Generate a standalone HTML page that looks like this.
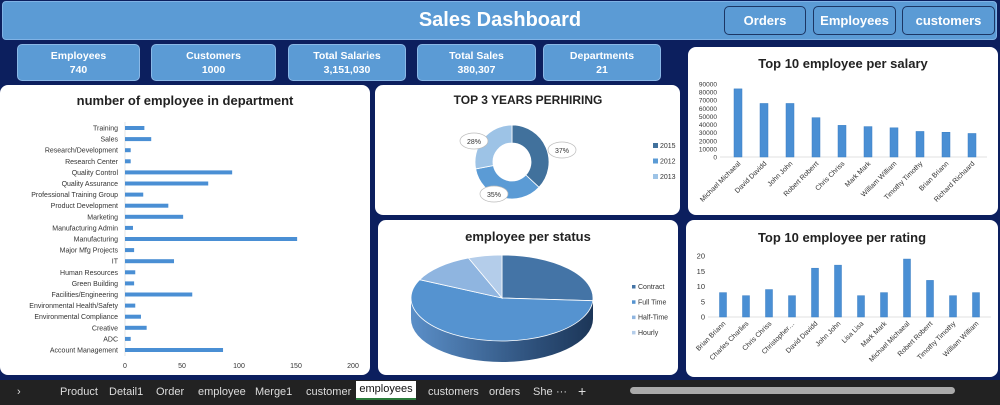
<!DOCTYPE html>
<html><head><meta charset="utf-8">
<style>
body{margin:0;width:1000px;height:405px;background:#0c1f5e;font-family:"Liberation Sans",sans-serif;position:relative;overflow:hidden}
.abs{position:absolute}
.hdr{left:2px;top:1px;width:995px;height:39px;background:#5b9bd5;border:1px solid #7fb2e5;border-radius:4px;box-sizing:border-box}
.title{left:0;width:1000px;top:9px;text-align:center;color:#fff;font-weight:bold;font-size:20px}
.btn{top:6px;height:29px;border:1.5px solid #1c3664;border-radius:5px;background:#5b9bd5;color:#fff;font-weight:bold;font-size:13px;text-align:center;line-height:27px;box-sizing:border-box}
.kpi{top:44px;height:37px;background:#5b9bd5;border:1px solid #8ab8e6;border-radius:5px;color:#fff;font-weight:bold;font-size:10.5px;text-align:center;line-height:14px;padding-top:4px;box-sizing:border-box}
.panel{background:#fff;border-radius:8px}
.tabs{left:0;top:380px;width:1000px;height:25px;background:#222}
.tab{top:386px;color:#ddd;font-size:11px}
svg text{font-family:"Liberation Sans",sans-serif}
</style></head><body>
<div class="abs hdr"></div>
<div class="abs title">Sales Dashboard</div>
<div class="abs btn" style="left:724px;width:82px">Orders</div>
<div class="abs btn" style="left:813px;width:83px">Employees</div>
<div class="abs btn" style="left:902px;width:93px">customers</div>

<div class="abs kpi" style="left:17px;width:123px">Employees<br>740</div>
<div class="abs kpi" style="left:151px;width:125px">Customers<br>1000</div>
<div class="abs kpi" style="left:288px;width:118px">Total Salaries<br>3,151,030</div>
<div class="abs kpi" style="left:417px;width:119px">Total Sales<br>380,307</div>
<div class="abs kpi" style="left:543px;width:118px">Departments<br>21</div>

<div class="abs panel" style="left:0;top:85px;width:370px;height:290px"></div>
<div class="abs panel" style="left:375px;top:85px;width:305px;height:130px"></div>
<div class="abs panel" style="left:378px;top:220px;width:300px;height:155px"></div>
<div class="abs panel" style="left:688px;top:47px;width:310px;height:168px"></div>
<div class="abs panel" style="left:686px;top:220px;width:312px;height:157px"></div>

<svg class="abs" style="left:0;top:0" width="1000" height="380" id="charts">
<text x="185" y="105" text-anchor="middle" font-size="13" font-weight="bold" fill="#222">number of employee in department</text>
<text x="528" y="104" text-anchor="middle" font-size="12" font-weight="bold" fill="#222">TOP 3 YEARS PERHIRING</text>
<text x="528" y="241" text-anchor="middle" font-size="13" font-weight="bold" fill="#222">employee per status</text>
<text x="843" y="68" text-anchor="middle" font-size="13" font-weight="bold" fill="#222">Top 10 employee per salary</text>
<text x="842" y="242" text-anchor="middle" font-size="13" font-weight="bold" fill="#222">Top 10 employee per rating</text>
<g id="dept"></g><g id="donut"></g><g id="pie"></g><g id="sal"></g><g id="rat"></g>
</svg>

<div class="abs tabs"></div>
<div class="abs tab" style="left:17px">›</div>
<div class="abs tab" style="left:60px">Product</div>
<div class="abs tab" style="left:109px">Detail1</div>
<div class="abs tab" style="left:156px">Order</div>
<div class="abs tab" style="left:198px">employee</div>
<div class="abs tab" style="left:255px">Merge1</div>
<div class="abs tab" style="left:306px">customer</div>
<div class="abs" style="left:356px;top:381px;width:60px;height:19px;background:#fff;color:#111;font-size:11px;text-align:center;line-height:17px;border-bottom:2px solid #2a7a3a;box-sizing:border-box">employees</div>
<div class="abs tab" style="left:428px">customers</div>
<div class="abs tab" style="left:489px">orders</div>
<div class="abs tab" style="left:533px">She</div>
<div class="abs tab" style="left:556px">···</div>
<div class="abs tab" style="left:578px;font-size:14px;top:383px">+</div>
<div class="abs" style="left:630px;top:387px;width:325px;height:7px;background:#aaa;border-radius:4px"></div>

<script>
const NS='http://www.w3.org/2000/svg';
function mk(p,t,a,txt){const e=document.createElementNS(NS,t);for(const k in a)e.setAttribute(k,a[k]);if(txt!==undefined)e.textContent=txt;p.appendChild(e);return e;}

// Department chart
const deptNames=["Training","Sales","Research/Development","Research Center","Quality Control","Quality Assurance","Professional Training Group","Product Development","Marketing","Manufacturing Admin","Manufacturing","Major Mfg Projects","IT","Human Resources","Green Building","Facilities/Engineering","Environmental Health/Safety","Environmental Compliance","Creative","ADC","Account Management"];
const deptCounts=[17,23,5,5,94,73,16,38,51,7,151,8,43,9,8,59,9,14,19,5,86];
const deptTicks=[0,50,100,150,200];
// Salary chart
const salNames=["Michael Michaeal","David Davidd","John John","Robert Roberrt","Chris Chriss","Mark Mark","William William","Timothy Timothy","Brian Briann","Richard Richaard"];
const salValues=[84000,66000,66000,48500,39000,37500,36000,31500,30500,29000];
const salTicks=[0,10000,20000,30000,40000,50000,60000,70000,80000,90000];
// Rating chart
const ratNames=["Brian Briann","Charles Charlies","Chris Chriss","Christopher…","David Davidd","John John","Lisa Lisa","Mark Mark","Michael Michaeal","Robert Roberrt","Timothy Timothy","William William"];
const ratValues=[8,7,9,7,16,17,7,8,19,12,7,8];
const ratTicks=[0,5,10,15,20];
// Donut
const hireYears=["2015","2012","2013"];
const hireShares=[37,35,28];
// Pie
const statusNames=["Contract","Full Time","Half-Time","Hourly"];
const statusShares=[26,56,12,6];

(function(){
 const g=document.getElementById('dept');
 const x=v=>125+v*(353-125)/200, y=i=>128+i*(350-128)/20;
 deptTicks.forEach(t=>{const e=mk(g,'text',{x:x(t),y:368,'text-anchor':'middle','font-size':7,fill:'#333'},t);
 });
 mk(g,'line',{x1:125,y1:122,x2:125,y2:356,stroke:'#d9d9d9','stroke-width':0.7});
 deptNames.forEach((n,i)=>{
  const l=mk(g,'text',{x:118,y:y(i)+2.5,'text-anchor':'end','font-size':7,fill:'#333'},n);
  
  const b=mk(g,'rect',{x:125,y:y(i)-2,width:x(deptCounts[i])-125,height:4,fill:'#4a8fd4'});
  
 });
})();

function colChart(id,names,vals,ticks,y0,yTop,x0,x1,labX,bw,fs){
 const g=document.getElementById(id);const max=ticks[ticks.length-1];
 const y=v=>y0-v*(y0-yTop)/max, step=(x1-x0)/(names.length-1);
 ticks.forEach(t=>{const e=mk(g,'text',{x:labX,y:y(t)+2.5,'text-anchor':'end','font-size':fs,fill:'#333'},t);
 });
 mk(g,'line',{x1:labX+3,y1:y0,x2:x1+15,y2:y0,stroke:'#d9d9d9','stroke-width':0.7});
 names.forEach((n,i)=>{const cx=x0+i*step;
  const b=mk(g,'rect',{x:cx-bw/2,y:y(vals[i]),width:bw,height:y0-y(vals[i]),fill:'#4a8fd4',stroke:'#3a7fc4','stroke-width':0.5});
  
  const l=mk(g,'text',{x:cx+3,y:y0+7,'text-anchor':'end','font-size':7,fill:'#333',transform:`rotate(-45 ${cx+3} ${y0+7})`},n);
  
 });
}
colChart('sal',salNames,salValues,salTicks,157,84,738,972,717,8,6.5);
colChart('rat',ratNames,ratValues,ratTicks,317,256,723,976,705,7,7.5);

(function(){
 const g=document.getElementById('donut');const cx=512,cy=162,R=37,r=19;
 const cols=['#41719c','#5b9bd5','#9dc3e6'];const tot=hireShares.reduce((a,b)=>a+b,0);
 let a=0;const pt=(rad,an)=>[cx+rad*Math.sin(an),cy-rad*Math.cos(an)];
 const callPos=[[550,151],[482,195],[462,142]];
 hireShares.forEach((s,i)=>{const a2=a+s/tot*2*Math.PI,lg=(a2-a)>Math.PI?1:0;
  const [x1,y1]=pt(R,a),[x2,y2]=pt(R,a2),[x3,y3]=pt(r,a2),[x4,y4]=pt(r,a);
  const p=mk(g,'path',{d:`M${x1},${y1}A${R},${R} 0 ${lg} 1 ${x2},${y2}L${x3},${y3}A${r},${r} 0 ${lg} 0 ${x4},${y4}Z`,fill:cols[i],stroke:'#fff','stroke-width':0.8});
  
  const [ex,ey]=callPos[i];
  const e=mk(g,'ellipse',{cx:ex+12,cy:ey-1,rx:14,ry:8,fill:'#fff',stroke:'#bbb','stroke-width':0.7});
  
  const t=mk(g,'text',{x:ex+12,y:ey+2,'text-anchor':'middle','font-size':7,fill:'#333'},s+'%');
  
  const ly=147+i*15.5;
  const lr=mk(g,'rect',{x:653,y:ly-4,width:5,height:5,fill:cols[i]});
  
  const lt=mk(g,'text',{x:660,y:ly+1,'font-size':7,fill:'#333'},hireYears[i]);
  
  a=a2;});
})();

(function(){
 const svg=document.getElementById('charts');const g=document.getElementById('pie');
 const cx=502,cy=298,rx=91,ry=43,d=21;
 const defs=mk(svg,'defs',{});const gr=mk(defs,'linearGradient',{id:'side',x1:0,x2:1,y1:0,y2:0});
 mk(gr,'stop',{offset:'0','stop-color':'#5b8fc8'});mk(gr,'stop',{offset:'0.7','stop-color':'#2c4e78'});mk(gr,'stop',{offset:'1','stop-color':'#1c3658'});
 const side=mk(g,'path',{d:`M${cx-rx},${cy}L${cx-rx},${cy+d}A${rx},${ry} 0 0 0 ${cx+rx},${cy+d}L${cx+rx},${cy}Z`,fill:'url(#side)'});
 
 const cols=['#4474a6','#5593d0','#8fb5e0','#b4cdea'];const tot=statusShares.reduce((a,b)=>a+b,0);
 const pt=an=>[cx+rx*Math.sin(an),cy-ry*Math.cos(an)];let a=0;
 statusShares.forEach((s,i)=>{const a2=a+s/tot*2*Math.PI,lg=(a2-a)>Math.PI?1:0;const [x1,y1]=pt(a),[x2,y2]=pt(a2);
  const p=mk(g,'path',{d:`M${cx},${cy}L${x1},${y1}A${rx},${ry} 0 ${lg} 1 ${x2},${y2}Z`,fill:cols[i],stroke:'#fff','stroke-width':0.8});
  
  const ly=288+i*15.3;
  const lr=mk(g,'rect',{x:632,y:ly-3,width:3.5,height:3.5,fill:cols[i]});
  
  const lt=mk(g,'text',{x:638,y:ly+1,'font-size':7,fill:'#333'},statusNames[i]);
  
  a=a2;});
})();
</script>
</body></html>
